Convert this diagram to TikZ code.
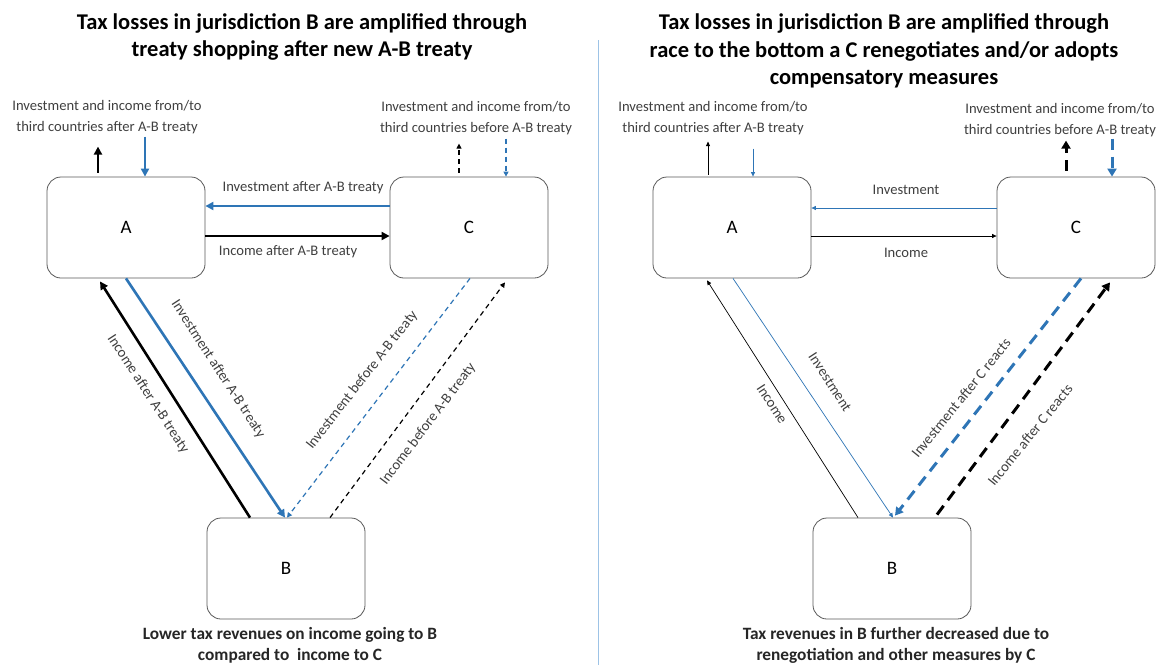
\documentclass[tikz,border=0pt]{standalone}
\usepackage{fontspec}
\setmainfont{Carlito}
\usetikzlibrary{arrows.meta,calc}
\definecolor{myblue}{RGB}{46,117,182}
\definecolor{divblue}{RGB}{157,195,230}
\definecolor{lbltxt}{RGB}{64,64,64}
\begin{document}
\begin{tikzpicture}[x=1pt,y=-1pt,
  box/.style={draw=black!65, line width=0.8pt, rounded corners=14pt, minimum width=158pt, minimum height=101pt, inner sep=0pt, font=\fontsize{19}{22}\selectfont},
  ttl/.style={font=\bfseries\fontsize{22.5}{27.8}\selectfont, align=center, inner sep=0pt},
  btm/.style={font=\bfseries\fontsize{17.3}{21}\selectfont, align=center, inner sep=0pt, text=black!85},
  lbl/.style={font=\fontsize{14.6}{21}\selectfont, text=lbltxt, align=center, inner sep=0pt},
  thk/.style={line width=2.6pt, -{Triangle[length=8pt,width=8pt]}},
  thn/.style={line width=0.7pt, -{Triangle[length=4.5pt,width=4pt]}},
  dsh/.style={line width=1.2pt, dash pattern=on 5pt off 4pt, -{Triangle[length=5pt,width=5pt]}},
  tdsh/.style={line width=3pt, dash pattern=on 11pt off 7pt, -{Triangle[length=8pt,width=9pt]}},
]
\useasboundingbox (0,0) rectangle (1158,665);
\fill[white] (0,0) rectangle (1158,665);

% divider
\draw[divblue, line width=1pt] (598,40) -- (598,665);

% ===== LEFT PANEL =====
\node[ttl] (t1) at (302,37) {Tax losses in jurisdiction B are amplified through\\treaty shopping after new A-B treaty};
\node[box] (A) at (126,227.5) {A};
\node[box] (C) at (469,227.5) {C};
\node[box] (B) at (286,568.5) {B};
\node[btm] (b1) at (290,645) {Lower tax revenues on income going to B\\compared to ~income to C};

\node[lbl] (la) at (107,117) {Investment and income from/to\\third countries after A-B treaty};
\node[lbl] (lc) at (476,118) {Investment and income from/to\\third countries before A-B treaty};

\coordinate (a1) at ($(A.north)+(-28,-30)$);
\coordinate (a2) at ($(A.north)+(19,-40)$);
\draw[thk] ($(A.north)+(-28,-4)$) -- (a1);
\draw[thk, myblue] (a2) -- ($(A.north)+(19,0)$);
\coordinate (c1) at ($(C.north)+(-10,-33)$);
\coordinate (c2) at ($(C.north)+(37,-38)$);
\draw[dsh] ($(C.north)+(-10,-4)$) -- (c1);
\draw[dsh, myblue] (c2) -- ($(C.north)+(37,0)$);

\draw[thk, myblue] ($(C.west)+(0,-21.5)$) -- ($(A.east)+(0,-21.5)$);
\draw[thk] ($(A.east)+(0,8.5)$) -- ($(C.west)+(0,8.5)$);
\node[lbl] (l1) at (303,188) {Investment after A-B treaty};
\node[lbl] (l2) at (288,252) {Income after A-B treaty};

\draw[thk] ($(B.north)+(-36,0)$) -- ($(A.south)+(-26,3)$);
\draw[thk, myblue] (A.south) -- ($(B.north)+(-1,0)$);
\draw[dsh, myblue] ($(C.south)+(1,0)$) -- ($(B.north)+(1,0)$);
\draw[dsh] ($(B.north)+(44,0)$) -- ($(C.south)+(36,4)$);

\node[lbl, rotate=-57] (d1) at (148,394) {Income after A-B treaty};
\node[lbl, rotate=-57] (d2) at (218,369) {Investment after A-B treaty};
\node[lbl, rotate=52] (d3) at (362,380) {Investment before A-B treaty};
\node[lbl, rotate=53] (d4) at (428,424) {Income before A-B treaty};

% ===== RIGHT PANEL =====
\node[ttl] (t2) at (884,51) {Tax losses in jurisdiction B are amplified through\\race to the bottom a C renegotiates and/or adopts\\compensatory measures};
\node[box] (A2) at (732,227.5) {A};
\node[box] (C2) at (1076,227.5) {C};
\node[box] (B2) at (892,568.5) {B};
\node[btm] (b2) at (896,645) {Tax revenues in B further decreased due to\\renegotiation and other measures by C};

\node[lbl] (la2) at (713,118) {Investment and income from/to\\third countries after A-B treaty};
\node[lbl] (lc2) at (1060,120) {Investment and income from/to\\third countries before A-B treaty};

\coordinate (a3) at ($(A2.north)+(-24,-35)$);
\coordinate (a4) at ($(A2.north)+(21,-28)$);
\draw[thn] ($(A2.north)+(-24,-2)$) -- (a3);
\draw[thn, myblue] (a4) -- ($(A2.north)+(21,0)$);
\coordinate (c3) at ($(C2.north)+(-10,-36)$);
\coordinate (c4) at ($(C2.north)+(36,-38)$);
\draw[tdsh] ($(C2.north)+(-10,-6)$) -- (c3);
\draw[tdsh, myblue] (c4) -- ($(C2.north)+(36,0)$);

\draw[thn, myblue] ($(C2.west)+(0,-19.5)$) -- ($(A2.east)+(0,-19.5)$);
\draw[thn] ($(A2.east)+(0,8.5)$) -- ($(C2.west)+(0,8.5)$);
\node[lbl] (l3) at (906,190) {Investment};
\node[lbl] (l4) at (906,253) {Income};

\draw[thn] ($(B2.north)+(-34,0)$) -- ($(A2.south)+(-25,2)$);
\draw[thn, myblue] ($(A2.south)+(1,0)$) -- ($(B2.north)+(1,0)$);
\draw[tdsh, myblue] ($(C2.south)+(5,0)$) -- ($(B2.north)+(3,-2)$);
\draw[tdsh] ($(B2.north)+(45,-3)$) -- ($(C2.south)+(34,4)$);

\node[lbl, rotate=-57] (d5) at (772,404) {Income};
\node[lbl, rotate=-57] (d6) at (830,382) {Investment};
\node[lbl, rotate=51] (d7) at (961,398) {Investment after C reacts};
\node[lbl, rotate=51] (d8) at (1030,435) {Income after C reacts};
\end{tikzpicture}
\end{document}
